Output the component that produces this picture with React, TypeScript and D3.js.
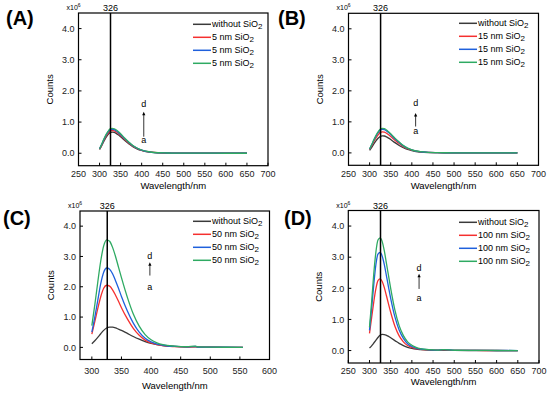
import * as d3 from "d3";

// wavelength grids (nm)
const wlAB = [300, 305, 310, 315, 320, 325, 330, 335, 340, 345, 350, 360, 370, 380, 390, 400, 410, 420, 440, 460, 480, 500, 550, 600, 650];
const wlC = [300, 305, 310, 315, 320, 325, 330, 335, 340, 345, 350, 360, 370, 380, 390, 400, 410, 420, 440, 460, 475, 480, 500, 525, 555];
const wlD = [300, 305, 310, 315, 320, 325, 330, 335, 340, 345, 350, 360, 370, 380, 390, 400, 410, 420, 440, 460, 475, 500, 550, 600, 650];

// counts, x10^6
const aWithout = [0.12, 0.245, 0.38, 0.5, 0.6, 0.66, 0.68, 0.67, 0.63, 0.585, 0.53, 0.41, 0.3, 0.2, 0.135, 0.09, 0.055, 0.035, 0.014, 0.007, 0.004, 0.002, 0.001, 0, 0];
const a5nm1 = [0.13, 0.26, 0.41, 0.54, 0.64, 0.71, 0.73, 0.72, 0.68, 0.63, 0.57, 0.44, 0.32, 0.22, 0.145, 0.095, 0.058, 0.036, 0.015, 0.007, 0.004, 0.002, 0.001, 0, 0];
const a5nm2 = [0.14, 0.28, 0.43, 0.57, 0.68, 0.75, 0.77, 0.755, 0.715, 0.66, 0.6, 0.46, 0.34, 0.23, 0.155, 0.1, 0.062, 0.038, 0.015, 0.008, 0.004, 0.002, 0.001, 0, 0];
const a5nm3 = [0.145, 0.29, 0.45, 0.59, 0.7, 0.78, 0.8, 0.785, 0.745, 0.69, 0.625, 0.48, 0.35, 0.24, 0.16, 0.104, 0.064, 0.04, 0.016, 0.008, 0.004, 0.002, 0.001, 0, 0];

const bWithout = [0.08, 0.18, 0.29, 0.39, 0.47, 0.53, 0.55, 0.545, 0.515, 0.475, 0.43, 0.33, 0.24, 0.165, 0.11, 0.072, 0.045, 0.028, 0.011, 0.006, 0.003, 0.002, 0.001, 0, 0];
const b15nm1 = [0.11, 0.23, 0.36, 0.48, 0.58, 0.66, 0.68, 0.67, 0.635, 0.585, 0.53, 0.41, 0.3, 0.2, 0.135, 0.088, 0.054, 0.034, 0.014, 0.007, 0.004, 0.002, 0.001, 0, 0];
const b15nm2 = [0.12, 0.26, 0.41, 0.54, 0.65, 0.735, 0.76, 0.75, 0.71, 0.655, 0.59, 0.455, 0.335, 0.225, 0.15, 0.098, 0.06, 0.037, 0.015, 0.008, 0.004, 0.002, 0.001, 0, 0];
const b15nm3 = [0.125, 0.27, 0.42, 0.56, 0.68, 0.765, 0.79, 0.78, 0.74, 0.68, 0.615, 0.475, 0.35, 0.235, 0.155, 0.1, 0.062, 0.038, 0.016, 0.008, 0.004, 0.002, 0.001, 0, 0];

const cWithout = [0.12, 0.22, 0.33, 0.45, 0.56, 0.64, 0.67, 0.665, 0.64, 0.6, 0.56, 0.46, 0.36, 0.27, 0.19, 0.13, 0.09, 0.06, 0.03, 0.015, 0.02, 0.01, 0.005, 0.002, 0];
const c50nm1 = [0.44, 0.85, 1.28, 1.67, 1.95, 2.05, 2.02, 1.9, 1.72, 1.52, 1.31, 0.94, 0.63, 0.4, 0.24, 0.145, 0.09, 0.055, 0.025, 0.012, 0.025, 0.008, 0.006, 0.003, 0];
const c50nm2 = [0.5, 1.0, 1.55, 2.1, 2.48, 2.62, 2.58, 2.43, 2.2, 1.95, 1.68, 1.2, 0.8, 0.5, 0.3, 0.18, 0.11, 0.07, 0.03, 0.015, 0.03, 0.01, 0.008, 0.004, 0];
const c50nm3 = [0.72, 1.4, 2.15, 2.85, 3.35, 3.55, 3.5, 3.3, 3.0, 2.65, 2.3, 1.65, 1.1, 0.7, 0.42, 0.25, 0.15, 0.09, 0.04, 0.02, 0.04, 0.015, 0.01, 0.005, 0];

const dWithout = [0.08, 0.15, 0.24, 0.33, 0.42, 0.49, 0.52, 0.515, 0.49, 0.455, 0.41, 0.32, 0.23, 0.16, 0.105, 0.07, 0.045, 0.03, 0.012, 0.006, 0.01, 0.003, 0.001, 0, 0];
const d100nm1 = [0.55, 1.05, 1.55, 1.98, 2.25, 2.3, 2.22, 2.02, 1.76, 1.49, 1.23, 0.78, 0.47, 0.28, 0.16, 0.1, 0.06, 0.04, 0.02, 0.01, 0.02, 0.006, 0.003, 0.001, 0];
const d100nm2 = [0.65, 1.35, 2.1, 2.75, 3.1, 3.15, 3.03, 2.76, 2.4, 2.03, 1.68, 1.08, 0.66, 0.39, 0.22, 0.13, 0.08, 0.05, 0.025, 0.012, 0.03, 0.008, 0.004, 0.002, 0];
const d100nm3 = [0.75, 1.55, 2.45, 3.15, 3.55, 3.62, 3.5, 3.2, 2.8, 2.4, 2.0, 1.3, 0.8, 0.48, 0.28, 0.17, 0.1, 0.06, 0.03, 0.015, 0.03, 0.01, 0.005, 0.002, 0];

const xTicksWide = [250, 300, 350, 400, 450, 500, 550, 600, 650, 700];
const xTicksC = [300, 350, 400, 450, 500, 550, 600];
const yTicks = [0, 1, 2, 3, 4];
const colors = ["#3a3a3a", "#f5302f", "#1f60dc", "#2eaa62"];
const peakLine = 326;

const panels = [
  { tag: "(A)", tagX: 6, tagY: 25, left: 78.5, top: 13, right: 268, bottom: 165.7, tickY: 177, titleY: 189, xDomain: [250, 700], xTicks: xTicksWide, wl: wlAB, series: [aWithout, a5nm1, a5nm2, a5nm3], size: "5 nm", lgX: 193, lgY: 24.3, arrow: { x: 405, d: 1.58, hi: 1.33, lo: 0.53, a: 0.42 } },
  { tag: "(B)", tagX: 278, tagY: 25, left: 348.5, top: 13.3, right: 538.5, bottom: 165.3, tickY: 177, titleY: 189, xDomain: [250, 700], xTicks: xTicksWide, wl: wlAB, series: [bWithout, b15nm1, b15nm2, b15nm3], size: "15 nm", lgX: 459, lgY: 23.3, arrow: { x: 409, d: 1.6, hi: 1.29, lo: 0.85, a: 0.69 } },
  { tag: "(C)", tagX: 3, tagY: 225, left: 80, top: 211, right: 269.5, bottom: 359.5, tickY: 373.5, titleY: 389, xDomain: [280, 600], xTicks: xTicksC, wl: wlC, series: [cWithout, c50nm1, c50nm2, c50nm3], size: "50 nm", lgX: 193, lgY: 221.3, arrow: { x: 398, d: 3.0, hi: 2.81, lo: 2.37, a: 2.0 } },
  { tag: "(D)", tagX: 284, tagY: 225, left: 348.3, top: 210.5, right: 539, bottom: 363, tickY: 373.5, titleY: 385, xDomain: [250, 700], xTicks: xTicksWide, wl: wlD, series: [dWithout, d100nm1, d100nm2, d100nm3], size: "100 nm", lgX: 459, lgY: 222.3, arrow: { x: 417, d: 2.66, hi: 2.47, lo: 1.98, a: 1.69 } },
];

const font = "'Liberation Sans', Arial, sans-serif";

function Panel({ p }: { p: (typeof panels)[number] }) {
  const x = d3.scaleLinear().domain(p.xDomain).range([p.left, p.right]);
  const y = d3.scaleLinear().domain([-0.4, 4.5]).range([p.bottom, p.top]);
  const line = d3
    .line<number>()
    .x((_, i) => x(p.wl[i]))
    .y((d) => y(d))
    .curve(d3.curveMonotoneX);
  const labels = ["without SiO", `${p.size} SiO`, `${p.size} SiO`, `${p.size} SiO`];
  const midX = (p.left + p.right) / 2;
  const midY = (p.top + p.bottom) / 2;
  const ax = x(p.arrow.x);
  return (
    <g fontFamily={font}>
      <text x={p.tagX} y={p.tagY} fontSize={20} fontWeight="bold">{p.tag}</text>
      {p.series.map((s, i) => (
        <path key={i} d={line(s) ?? ""} fill="none" stroke={colors[i]} strokeWidth={1.3} />
      ))}
      <line x1={x(peakLine)} x2={x(peakLine)} y1={p.top} y2={p.bottom} stroke="#000" strokeWidth={1.5} />
      <text x={x(peakLine)} y={p.top - 2} fontSize={9} textAnchor="middle">{peakLine}</text>
      <rect x={p.left} y={p.top} width={p.right - p.left} height={p.bottom - p.top} fill="none" stroke="#000" strokeWidth={1.2} />
      {p.xTicks.map((t) => (
        <g key={t}>
          <line x1={x(t)} x2={x(t)} y1={p.bottom} y2={p.bottom - 3} stroke="#000" strokeWidth={1} />
          <text x={x(t)} y={p.tickY} fontSize={9} textAnchor="middle" fill="#222">{t}</text>
        </g>
      ))}
      {yTicks.map((t) => (
        <g key={t}>
          <line x1={p.left} x2={p.left + 3} y1={y(t)} y2={y(t)} stroke="#000" strokeWidth={1} />
          <text x={p.left - 4} y={y(t) + 3.2} fontSize={9} textAnchor="end" fill="#222">{t.toFixed(1)}</text>
        </g>
      ))}
      <text x={p.left - 12} y={p.top - 3} fontSize={7}>
        x10<tspan fontSize={5} dy={-3}>6</tspan>
      </text>
      <text transform={`translate(${p.left - 26},${midY}) rotate(-90)`} fontSize={9.5} textAnchor="middle">Counts</text>
      <text x={midX} y={p.titleY} fontSize={9.5} textAnchor="middle">Wavelength/nm</text>
      {labels.map((l, i) => (
        <g key={i}>
          <line x1={p.lgX} x2={p.lgX + 18} y1={p.lgY + i * 13} y2={p.lgY + i * 13} stroke={colors[i]} strokeWidth={1.5} />
          <text x={p.lgX + 19} y={p.lgY + i * 13 + 3} fontSize={9}>
            {l}<tspan fontSize={8} dy={2}>2</tspan>
          </text>
        </g>
      ))}
      <text x={ax} y={y(p.arrow.d) + 3} fontSize={9} textAnchor="middle">d</text>
      <line x1={ax} x2={ax} y1={y(p.arrow.lo)} y2={y(p.arrow.hi) + 3} stroke="#000" strokeWidth={0.8} />
      <path d={`M${ax},${y(p.arrow.hi)} l-1.6,3.5 h3.2 z`} fill="#000" />
      <text x={ax} y={y(p.arrow.a) + 3} fontSize={9} textAnchor="middle">a</text>
    </g>
  );
}

export default function App() {
  return (
    <svg width={550} height={394} style={{ position: "absolute", left: 0, top: 0, background: "#fff" }}>
      {panels.map((p) => (
        <Panel key={p.tag} p={p} />
      ))}
    </svg>
  );
}
